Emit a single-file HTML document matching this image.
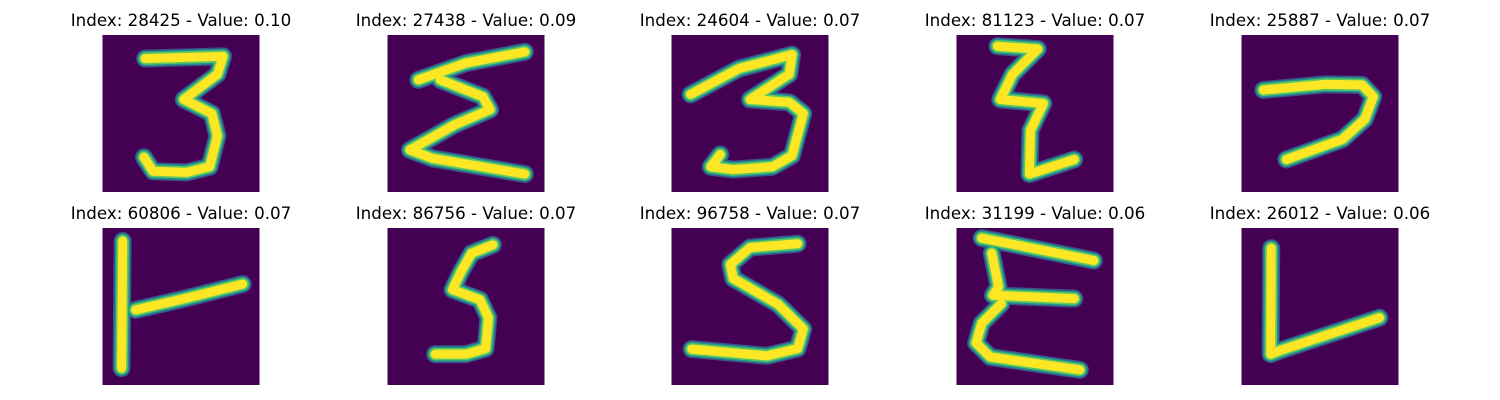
<!DOCTYPE html>
<html><head><meta charset="utf-8">
<style>
body{margin:0;width:1500px;height:400px;background:#fff;overflow:hidden;font-family:"DejaVu Sans","Liberation Sans",sans-serif;}
.title{position:absolute;width:400px;text-align:center;font-size:16.7px;color:#000;}
svg{position:absolute;}
</style></head>
<body>
<div id="root"></div>
<script>
const indices=[28425,27438,24604,81123,25887,60806,86756,96758,31199,26012];
const values=["0.10","0.09","0.07","0.07","0.07","0.07","0.07","0.07","0.06","0.06"];
const strokes=[
 [[[7.6,4.2],[21.5,3.8],[20.5,7],[14.5,11.5],[19.5,14],[20.5,18],[19.1,23.5],[15,24.5],[9,24.3],[7.4,21.8]]],
 [[[5.5,8],[14,5],[24.5,3]],[[9.4,8],[17,11],[18.3,13.3],[12,16],[4,20.5],[8,22],[24.5,24.8]]],
 [[[3.4,10.6],[12,6],[21.5,3.5],[21,7],[14,11.5],[21,12],[23.5,14],[21.5,21.5],[18,23.5],[11,24],[7,23.5],[8.7,21.3]]],
 [[[7.3,2],[14.5,2.5],[10,7],[7.8,11.5],[15.5,12.2],[13.2,17],[13,24.8],[21,22.2]]],
 [[[3.9,9.8],[15,8.8],[21.5,8.9],[23.5,11],[22,15],[18,18.6],[8,22.2]]],
 [[[3.6,2.3],[3.4,25]],[[5.9,14.6],[15,12.5],[25,10]]],
 [[[18.8,3],[15,4.5],[13,8],[11.6,11],[16.5,12.8],[18,16],[17.5,21.5],[14,22.5],[8.5,22.5]]],
 [[[22.5,2.8],[14,3.5],[10.5,6.5],[11,9],[19,13.6],[23.5,18],[22.5,21.5],[17,22.8],[3.6,21.6]]],
 [[[4.5,1.8],[24.5,5.8]],[[6.3,4.5],[7.5,10.5],[6.5,12],[21,12.6]],[[8,13.5],[4.5,17],[3.5,20.5],[6,23],[22,25.3]]],
 [[[5.3,3.6],[5.2,22.5],[7,21.8],[24.6,16]]]
];
const xs=[102,387,671,956,1241], ys=[35,228];
const root=document.getElementById('root');
const NS='http://www.w3.org/2000/svg';
for(let i=0;i<10;i++){
 const x=xs[i%5], y=ys[Math.floor(i/5)];
 const t=document.createElement('div');
 t.className='title';
 
 
 t.style.left=(x+79-200)+'px'; t.style.top=(y-25)+'px';
 t.textContent='Index: '+indices[i]+' - Value: '+values[i];
 root.appendChild(t);
 const s=document.createElementNS(NS,'svg');
 
 
 s.setAttribute('viewBox','0 0 28 28');
 s.setAttribute('width','158');s.setAttribute('height','157');
 s.style.left=x+'px';s.style.top=y+'px';
 let html='<rect width="28" height="28" fill="#440154"/>';
 const layers=[['#3b528b',3.2],['#21918c',2.7],['#5ec962',2.2],['#fde725',1.6]];
 for(const [c,w] of layers){
  for(const p of strokes[i]){
   html+='<polyline points="'+p.map(q=>q.join(',')).join(' ')+'" fill="none" stroke="'+c+'" stroke-width="'+w+'" stroke-linejoin="round" stroke-linecap="round"/>';
  }
 }
 s.innerHTML=html;
 root.appendChild(s);
}
</script>
</body></html>
